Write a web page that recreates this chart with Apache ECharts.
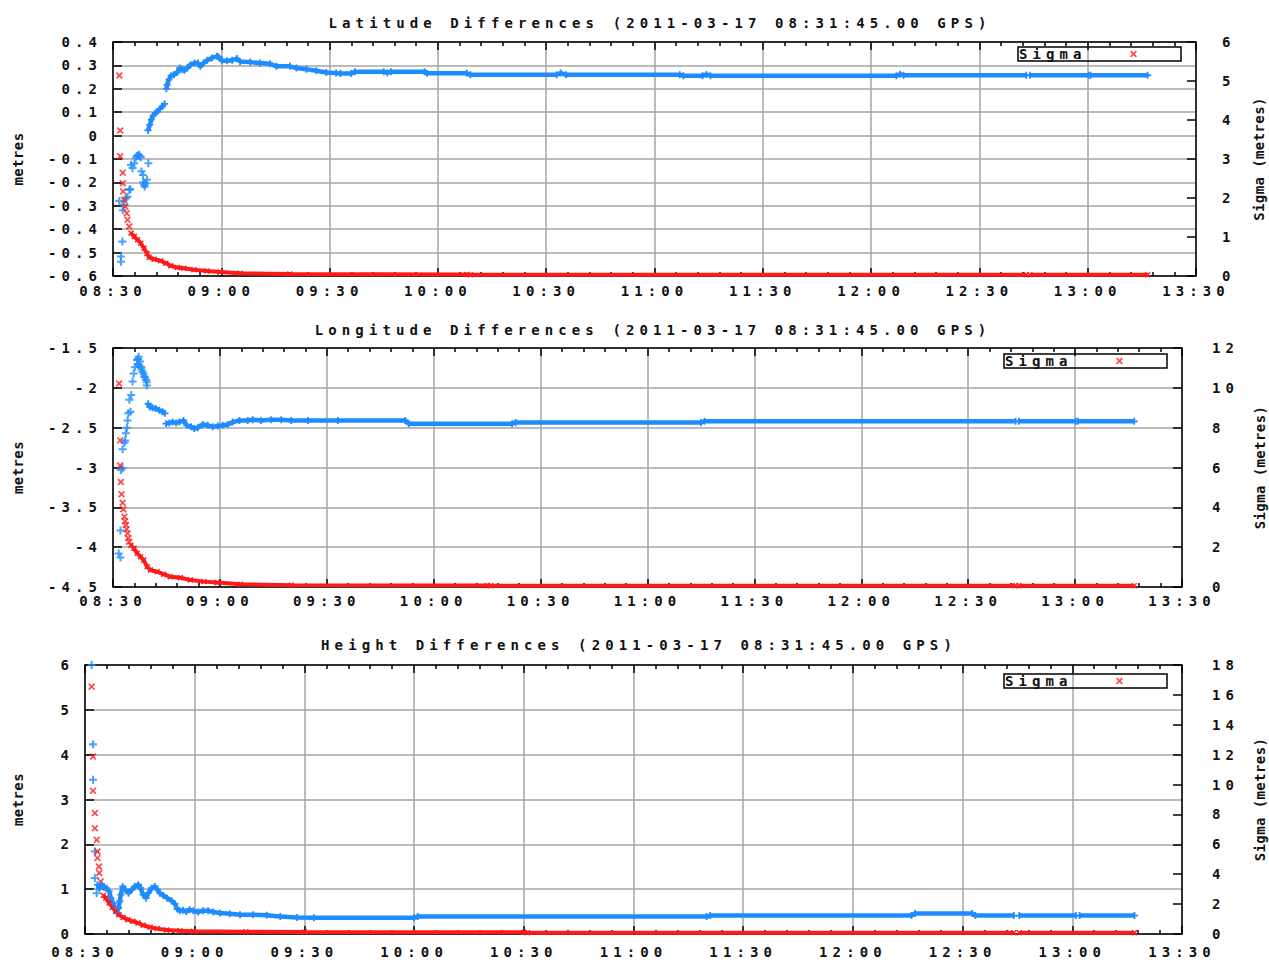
<!DOCTYPE html>
<html><head><meta charset="utf-8">
<script src="https://cdn.jsdelivr.net/npm/echarts@6/dist/echarts.min.js"></script>
<style>
html,body{margin:0;padding:0;background:#fff;}
#chart{width:1269px;height:960px;}
#chart text{letter-spacing:5.1px;}
#chart text[transform*="matrix"]{letter-spacing:0.4px;}
</style></head><body><div id="chart"></div>
<script>
// ---- data (x = minutes after 08:30) ----
const timeTickLabels = ['08:30','09:00','09:30','10:00','10:30','11:00','11:30','12:00','12:30','13:00','13:30'];
const panelTitles = [
  'Latitude Differences (2011-03-17 08:31:45.00 GPS)',
  'Longitude Differences (2011-03-17 08:31:45.00 GPS)',
  'Height Differences (2011-03-17 08:31:45.00 GPS)'
];
const leftAxisName = 'metres';
const rightAxisName = 'Sigma (metres)';
const sigmaName = 'Sigma';

// Latitude difference (metres), scattered early fixes
const latPts = [[1.75,-0.279],[2.2,-0.517],[2.2,-0.539],[2.6,-0.453],[2.7,-0.319],[3.1,-0.296],[3.6,-0.268],[4.0,-0.261],[4.5,-0.232],[4.8,-0.228],[5.0,-0.125],[5.4,-0.139],[5.9,-0.118],[6.3,-0.095],[6.6,-0.087],[6.9,-0.085],[7.2,-0.082],[7.4,-0.088],[7.7,-0.092],[7.9,-0.153],[8.3,-0.168],[8.4,-0.2],[8.6,-0.21],[8.8,-0.218],[9.0,-0.205],[9.4,-0.189],[9.8,-0.118]];
// Latitude difference, continuous track
const latTrack = [[9.7,0.022],[10.2,0.046],[10.6,0.068],[11.1,0.085],[11.7,0.096],[12.3,0.103],[12.9,0.113],[13.7,0.125],[14.3,0.136],null,[14.8,0.2],[15.0,0.217],[15.5,0.239],[16.1,0.256],[16.9,0.26],[17.8,0.27],[18.5,0.289],[19.2,0.282],[19.8,0.279],[20.6,0.289],[21.5,0.303],[22.6,0.31],[23.5,0.31],[24.2,0.296],[25.1,0.31],[26.1,0.322],[27.4,0.332],[28.8,0.339],[29.3,0.336],[30.2,0.32],[31.6,0.32],[33,0.322],[34.3,0.329],[35.2,0.317],[38,0.314],[40.7,0.31],[43.5,0.307],[45.3,0.296],[49,0.296],[50.8,0.289],[53.6,0.284],[56.3,0.277],[59.1,0.27],[61.8,0.267],[63,0.265],[66,0.265],[67,0.273],[75,0.273],[76,0.269],[77,0.273],[86.3,0.273],[87,0.266],[98,0.266],[99,0.26],[122.9,0.26],[124,0.267],[125.5,0.26],[157,0.26],[158,0.256],[163.3,0.256],[164.4,0.261],[165.5,0.256],[217,0.256],[218,0.262],[219,0.258],[253,0.258],null,[254,0.258],[270.3,0.258],null,[270.8,0.258],[286.6,0.258]];
// Latitude sigma (metres)
const latSigmaPts = [[1.75,5.14],[2.0,3.73],[2.0,3.07],[2.7,2.65],[2.7,2.38],[2.8,2.17],[3.1,1.95],[3.4,1.78],[3.8,1.61],[4.0,1.44],[4.5,1.27]];
const latSigmaTrack = [[5.0,1.10],[5.9,1.01],[6.8,0.93],[7.7,0.84],[8.6,0.71],[9.4,0.58],[10,0.48],[11.4,0.43],[13.2,0.39],[14.6,0.33],[16,0.26],[17.8,0.22],[19.6,0.20],[22.4,0.16],[26,0.13],[29.7,0.10],[35.2,0.07],[49,0.05],[98,0.04],[99,0.03],[253,0.03],null,[254,0.03],[286.6,0.03]];

// Longitude difference (metres)
const lonPts = [[1.6,-4.08],[2.1,-4.13],[2.1,-3.79],[2.2,-3.03],[2.7,-3.01],[2.7,-2.77],[3.2,-2.69],[3.4,-2.66],[3.6,-2.57],[3.9,-2.5],[4.1,-2.41],[4.3,-2.32],[4.9,-2.30],[4.6,-2.15],[5.1,-2.09],[5.5,-1.92],[5.8,-1.82],[6.2,-1.74],[6.7,-1.65],[6.9,-1.70],[7.0,-1.64],[7.2,-1.61],[7.4,-1.72],[7.6,-1.67],[7.9,-1.74],[8.0,-1.77],[8.3,-1.80],[8.6,-1.83],[8.8,-1.86],[9.0,-1.87],[9.3,-1.90],[9.5,-1.93],[9.5,-1.97]];
const lonTrack = [[9.9,-2.20],[10.3,-2.24],[11.1,-2.25],[12,-2.26],[13,-2.28],[13.9,-2.30],[14.6,-2.32],null,[14.9,-2.45],[15.8,-2.44],[16.7,-2.43],[17.7,-2.44],[18.6,-2.43],[19.8,-2.41],[20.7,-2.47],[21.9,-2.49],[22.8,-2.51],[23.8,-2.50],[25.2,-2.46],[26.6,-2.47],[28,-2.49],[29.4,-2.48],[30.8,-2.47],[32.2,-2.46],[33.6,-2.43],[35.5,-2.41],[37.8,-2.41],[39.2,-2.40],[41.5,-2.41],[44.4,-2.40],[47.2,-2.40],[50,-2.41],[54.7,-2.41],[63.1,-2.41],[82,-2.41],[83,-2.45],[112,-2.45],[113,-2.435],[165,-2.435],[166,-2.42],[253.3,-2.42],null,[254.2,-2.42],[270.2,-2.42],null,[270.8,-2.42],[286.6,-2.42]];
const lonSigmaPts = [[1.7,10.22],[2.0,7.36],[2.0,6.1],[2.2,5.27],[2.4,4.66],[2.7,4.23],[2.9,3.9],[3.2,3.53],[3.4,3.3],[3.6,3.11],[3.8,2.9],[4.1,2.69],[4.3,2.45],[4.5,2.27]];
const lonSigmaTrack = [[5.0,2.1],[5.9,1.94],[6.8,1.69],[7.7,1.52],[8.6,1.35],[9.6,1.02],[10.5,0.85],[12.4,0.77],[14.2,0.64],[16.1,0.52],[18.9,0.47],[21.7,0.35],[25.5,0.27],[29.2,0.22],[35.8,0.14],[50,0.09],[105,0.07],[106,0.06],[253.3,0.06],null,[254.2,0.06],[286.6,0.06]];

// Height difference (metres)
const htPts = [[1.8,6.0],[2.2,4.23],[2.2,3.44],[2.7,1.84],[2.7,1.25],[3.2,0.91]];
const htTrack = [[3.4,1.10],[3.9,1.02],[4.5,1.10],[5.2,1.06],[5.9,1.02],[6.6,0.95],[7.1,0.80],[7.7,0.69],[8.2,0.58],[8.7,0.47],[9.2,0.58],[9.5,0.73],[9.8,0.88],[10.3,1.06],[11,0.99],[11.9,0.91],[12.8,0.99],[13.6,1.06],[14.6,1.10],[15.2,1.02],[15.9,0.88],[16.7,0.80],[17.3,0.91],[18.2,1.02],[19.1,1.06],[19.8,0.99],[20.5,0.91],[21.4,0.86],[22.5,0.80],[23.7,0.74],[24.6,0.67],[25.2,0.56],[25.9,0.52],[26.8,0.53],[27.7,0.50],[28.6,0.54],[29.6,0.52],[30.9,0.49],[32.3,0.52],[33.7,0.52],[35.1,0.49],[36.9,0.47],[39.6,0.45],[42.4,0.43],[46,0.43],[49.7,0.42],[53.4,0.39],[58,0.37],[62.6,0.36],[90,0.36],[91,0.39],[170,0.39],[171,0.41],[226,0.41],[227,0.46],[242.6,0.46],[243.5,0.41],[254,0.41],null,[255.5,0.41],[271,0.41],null,[272,0.41],[287,0.41]];
const htSigmaPts = [[1.8,16.55],[2.2,11.87],[2.2,9.58],[2.7,8.09],[2.7,7.08],[3.2,6.30],[3.4,5.52],[3.4,5.08],[3.8,4.52],[3.9,4.08],[4.3,3.52],[4.6,3.07]];
const htSigmaTrack = [[5.0,2.58],[5.7,2.41],[6.6,2.07],[7.5,1.78],[8.4,1.51],[9.3,1.29],[10.4,1.11],[11.7,0.96],[13.1,0.85],[14.5,0.74],[15.9,0.58],[17.8,0.45],[19.7,0.36],[22.3,0.27],[26,0.22],[29.7,0.18],[44,0.15],[60,0.13],[120,0.12],[121,0.09],[254,0.09],null,[255.5,0.09],[287,0.09]];

// ---- styling / layout ----
const FONT = 'DejaVu Sans Mono';
const BLUE = '#1e8cff';
const RED = '#ff1a1a';
const GRIDC = '#a4a4a4';
const PLUS = 'path://M2.6,0H4.4V2.6H7V4.4H4.4V7H2.6V4.4H0V2.6H2.6Z';
const CROSS = 'path://M0,1.2L1.2,0L3.5,2.3L5.8,0L7,1.2L4.7,3.5L7,5.8L5.8,7L3.5,4.7L1.2,7L0,5.8L2.3,3.5Z';

const panels = [
  {grid:{left:113,top:42,width:1083,height:234}, yl:{min:-0.6,max:0.4,interval:0.1}, yr:{min:0,max:6,interval:1},
   pts:latPts, track:latTrack, sPts:latSigmaPts, sTrack:latSigmaTrack, titleX:655, titleY:11,
   lGap:88, rGap:56, rMargin:26, xMargin:8, legend:{left:1018,top:47}},
  {grid:{left:113,top:348,width:1069,height:239}, yl:{min:-4.5,max:-1.5,interval:0.5}, yr:{min:0,max:12,interval:2},
   pts:lonPts, track:lonTrack, sPts:lonSigmaPts, sTrack:lonSigmaTrack, titleX:648, titleY:318,
   lGap:88, rGap:71, rMargin:30, xMargin:7, legend:{left:1004,top:354}},
  {grid:{left:85,top:665,width:1097,height:269}, yl:{min:0,max:6,interval:1}, yr:{min:0,max:18,interval:2},
   pts:htPts, track:htTrack, sPts:htSigmaPts, sTrack:htSigmaTrack, titleX:634, titleY:633,
   lGap:60, rGap:71, rMargin:30, xMargin:11, legend:{left:1004,top:674}}
];

const txt = {fontFamily:FONT, fontSize:14, fontWeight:'bold', color:'#111'};
const gapify = arr => arr.map(p => p === null ? ['-','-'] : p);

const option = {animation:false, backgroundColor:'#fff', title:[], grid:[], xAxis:[], yAxis:[], series:[], legend:[]};

panels.forEach((p, i) => {
  option.title.push({text:panelTitles[i], left:p.titleX, top:p.titleY, textAlign:'center',
    textStyle:Object.assign({}, txt)});
  option.grid.push(Object.assign({containLabel:false, outerBoundsMode:'none'}, p.grid));
  const axLine = {show:true, onZero:false, lineStyle:{color:'#000', width:1.5}};
  const xCommon = {gridIndex:i, type:'value', min:0, max:300, interval:30,
    axisLine:axLine, axisTick:{show:true, inside:true, length:8, lineStyle:{color:'#000', width:1.5}},
    minorTick:{show:true, splitNumber:5, length:4, lineStyle:{color:'#000', width:1.5}}};
  option.xAxis.push(Object.assign({}, xCommon, {position:'bottom',
    splitLine:{show:true, lineStyle:{color:GRIDC, width:1.5}},
    axisLabel:Object.assign({margin:p.xMargin, formatter:v => timeTickLabels[Math.round(v/30)]}, txt)}));
  option.xAxis.push(Object.assign({}, xCommon, {position:'top', splitLine:{show:false}, axisLabel:{show:false}}));
  option.yAxis.push(Object.assign({gridIndex:i, type:'value', position:'left'}, p.yl, {
    axisLine:axLine, axisTick:{show:true, inside:true, length:9, lineStyle:{color:'#000', width:1.5}},
    splitLine:{show:true, lineStyle:{color:GRIDC, width:1.5}},
    axisLabel:Object.assign({margin:11}, txt),
    name:leftAxisName, nameLocation:'middle', nameRotate:90, nameGap:p.lGap, nameTextStyle:txt}));
  option.yAxis.push(Object.assign({gridIndex:i, type:'value', position:'right'}, p.yr, {
    axisLine:axLine, axisTick:{show:true, inside:true, length:9, lineStyle:{color:'#000', width:1.5}},
    splitLine:{show:false},
    axisLabel:Object.assign({margin:p.rMargin}, txt),
    name:rightAxisName, nameLocation:'middle', nameRotate:90, nameGap:p.rGap, nameTextStyle:txt}));

  const xi = 2*i, yl = 2*i, yr = 2*i+1;
  option.series.push({type:'scatter', name:'diff'+i, xAxisIndex:xi, yAxisIndex:yl, data:p.pts,
    symbol:PLUS, symbolSize:8, itemStyle:{color:BLUE}, silent:true});
  option.series.push({type:'line', name:'diff'+i, xAxisIndex:xi, yAxisIndex:yl, data:gapify(p.track),
    symbol:PLUS, symbolSize:7, showSymbol:true, showAllSymbol:true, connectNulls:false,
    lineStyle:{color:BLUE, width:4.5}, itemStyle:{color:BLUE}, silent:true});
  option.series.push({type:'scatter', name:sigmaName, xAxisIndex:xi, yAxisIndex:yr, data:p.sPts,
    symbol:CROSS, symbolSize:7, itemStyle:{color:RED}, silent:true});
  option.series.push({type:'line', name:sigmaName, xAxisIndex:xi, yAxisIndex:yr, data:gapify(p.sTrack),
    symbol:CROSS, symbolSize:6, showSymbol:true, showAllSymbol:true, connectNulls:false,
    lineStyle:{color:RED, width:4}, itemStyle:{color:RED}, silent:true});

  option.legend.push({left:p.legend.left, top:p.legend.top, orient:'horizontal', align:'right',
    data:[{name:sigmaName, icon:CROSS}], itemWidth:7, itemHeight:7, itemGap:0,
    padding:[0,44,0,1], borderColor:'#000', borderWidth:1.5, selectedMode:false,
    itemStyle:{color:RED},
    formatter:name => '{a|' + name + '}',
    textStyle:Object.assign({lineHeight:14, rich:{a:Object.assign({width:106, align:'left', lineHeight:14}, txt)}}, txt)});
});

const chart = echarts.init(document.getElementById('chart'), null, {renderer:'svg'});
chart.setOption(option);
</script></body></html>
